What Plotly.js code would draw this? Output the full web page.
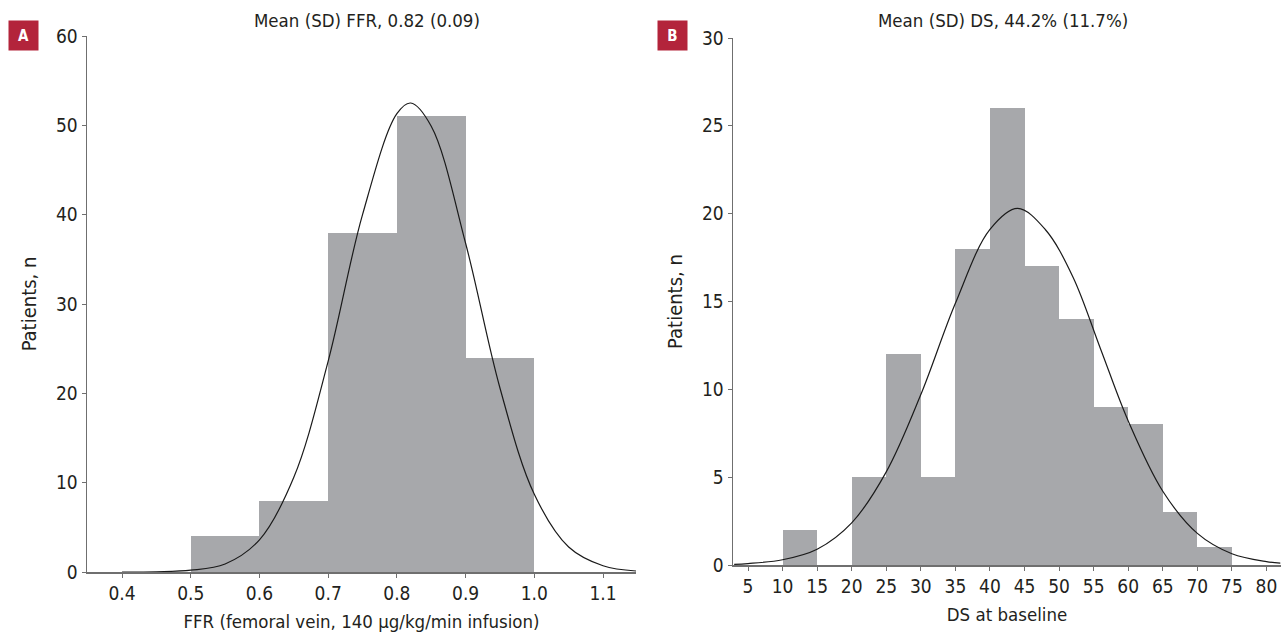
<!DOCTYPE html>
<html>
<head>
<meta charset="utf-8">
<script src="https://cdn.plot.ly/plotly-3.0.1.min.js"></script>
<style>html,body{margin:0;padding:0;background:#fff;}#chart{width:1283px;height:639px;}</style>
</head>
<body>
<div id="chart"></div>
<script>
// Panel A: FFR histogram
const ffrBinStarts = [0.5, 0.6, 0.7, 0.8, 0.9];
const ffrCounts = [4, 8, 38, 51, 24];
const ffrBinWidth = 0.1;
// Panel A fitted curve
const ffrCurveX = [0.40, 0.45, 0.50, 0.55, 0.60, 0.65, 0.70, 0.75, 0.80, 0.82, 0.85, 0.90, 0.95, 1.00, 1.05, 1.10, 1.15];
const ffrCurveY = [0.0, 0.03, 0.2, 0.9, 3.6, 10.6, 23.6, 40.0, 51.3, 52.5, 49.9, 36.8, 20.6, 8.7, 2.8, 0.7, 0.1];
const ffrTicks = [0.4, 0.5, 0.6, 0.7, 0.8, 0.9, 1.0, 1.1];
const ffrTickLabels = ["0.4", "0.5", "0.6", "0.7", "0.8", "0.9", "1.0", "1.1"];
const ffrYTicks = [0, 10, 20, 30, 40, 50, 60];

// Panel B: DS histogram
const dsBinStarts = [10, 15, 20, 25, 30, 35, 40, 45, 50, 55, 60, 65, 70];
const dsCounts = [2, 0, 5, 12, 5, 18, 26, 17, 14, 9, 8, 3, 1];
const dsBinWidth = 5;
// Panel B fitted curve
const dsCurveX = [3, 5, 10, 15, 20, 25, 30, 35, 40, 44, 48, 52, 56, 60, 65, 70, 75, 80, 82];
const dsCurveY = [0.04, 0.08, 0.3, 0.9, 2.4, 5.3, 9.7, 14.9, 19.1, 20.3, 19.1, 16.4, 12.3, 8.2, 4.2, 1.8, 0.64, 0.19, 0.11];
const dsTicks = [5, 10, 15, 20, 25, 30, 35, 40, 45, 50, 55, 60, 65, 70, 75, 80];
const dsYTicks = [0, 5, 10, 15, 20, 25, 30];

const titleA = "Mean (SD) FFR, 0.82 (0.09)";
const titleB = "Mean (SD) DS, 44.2% (11.7%)";
const xTitleA = "FFR (femoral vein, 140 µg/kg/min infusion)";
const xTitleB = "DS at baseline";
const yTitle = "Patients, n";

const FONT = "'DejaVu Sans Condensed', 'Liberation Sans Narrow', sans-serif";
const BAR = "#a7a8ab";
const AX = "#6f6f6f";
const TXT = "#231f20";

const centers = (starts, w) => starts.map(s => s + w / 2);

const traces = [
  {type: "bar", x: centers(ffrBinStarts, ffrBinWidth), y: ffrCounts, width: ffrBinStarts.map(() => ffrBinWidth),
   marker: {color: BAR, line: {width: 0}}, xaxis: "x", yaxis: "y", hoverinfo: "skip"},
  {type: "scatter", mode: "lines", x: ffrCurveX, y: ffrCurveY, line: {color: "#1a1a1a", width: 1.2, shape: "spline", smoothing: 1},
   xaxis: "x", yaxis: "y", hoverinfo: "skip", cliponaxis: false},
  {type: "bar", x: centers(dsBinStarts, dsBinWidth), y: dsCounts, width: dsBinStarts.map(() => dsBinWidth),
   marker: {color: BAR, line: {width: 0}}, xaxis: "x2", yaxis: "y2", hoverinfo: "skip"},
  {type: "scatter", mode: "lines", x: dsCurveX, y: dsCurveY, line: {color: "#1a1a1a", width: 1.2, shape: "spline", smoothing: 1},
   xaxis: "x2", yaxis: "y2", hoverinfo: "skip", cliponaxis: false}
];

const W = 1283, H = 639;
const axBase = {
  showgrid: false, zeroline: false, showline: true, linecolor: AX, linewidth: 1.5,
  ticks: "outside", ticklen: 4, tickwidth: 1, tickcolor: AX,
  tickfont: {family: FONT, size: 19, color: TXT}, fixedrange: true
};

const layout = {
  width: W, height: H, margin: {l: 0, r: 0, t: 0, b: 0},
  paper_bgcolor: "#fff", plot_bgcolor: "#fff", showlegend: false, bargap: 0,
  font: {family: FONT, color: TXT},
  xaxis: Object.assign({}, axBase, {domain: [87 / W, 636 / W], range: [0.349, 1.148], anchor: "y",
    tickmode: "array", tickvals: ffrTicks, ticktext: ffrTickLabels,
    title: {text: xTitleA, font: {family: FONT, size: 18.5, color: TXT}, standoff: 12}}),
  yaxis: Object.assign({}, axBase, {domain: [(H - 572) / H, (H - 36) / H], range: [0, 60], anchor: "x",
    tickmode: "array", tickvals: ffrYTicks,
    title: {text: yTitle, font: {family: FONT, size: 20, color: TXT}, standoff: 14}}),
  xaxis2: Object.assign({}, axBase, {domain: [733 / W, 1281 / W], range: [2.83, 82.1], anchor: "y2",
    tickmode: "array", tickvals: dsTicks,
    title: {text: xTitleB, font: {family: FONT, size: 18.5, color: TXT}, standoff: 12}}),
  yaxis2: Object.assign({}, axBase, {domain: [(H - 565) / H, (H - 38) / H], range: [0, 30], anchor: "x2",
    tickmode: "array", tickvals: dsYTicks,
    title: {text: yTitle, font: {family: FONT, size: 20, color: TXT}, standoff: 14}}),
  annotations: [
    {text: titleA, xref: "paper", yref: "paper", x: 367 / W, y: (H - 20) / H, xanchor: "center", yanchor: "middle",
     showarrow: false, font: {family: FONT, size: 18.5, color: TXT}},
    {text: titleB, xref: "paper", yref: "paper", x: 1003 / W, y: (H - 20) / H, xanchor: "center", yanchor: "middle",
     showarrow: false, font: {family: FONT, size: 18.5, color: TXT}},
    {text: "<b>A</b>", xref: "paper", yref: "paper", x: 23.5 / W, y: (H - 35) / H, xanchor: "center", yanchor: "middle",
     showarrow: false, font: {family: FONT, size: 15, color: "#fff"}, bgcolor: "#b3243b", width: 21, height: 21, borderpad: 4},
    {text: "<b>B</b>", xref: "paper", yref: "paper", x: 672.5 / W, y: (H - 35) / H, xanchor: "center", yanchor: "middle",
     showarrow: false, font: {family: FONT, size: 15, color: "#fff"}, bgcolor: "#b3243b", width: 21, height: 21, borderpad: 4}
  ]
};

Plotly.newPlot("chart", traces, layout, {staticPlot: true, displayModeBar: false});
</script>
</body>
</html>
